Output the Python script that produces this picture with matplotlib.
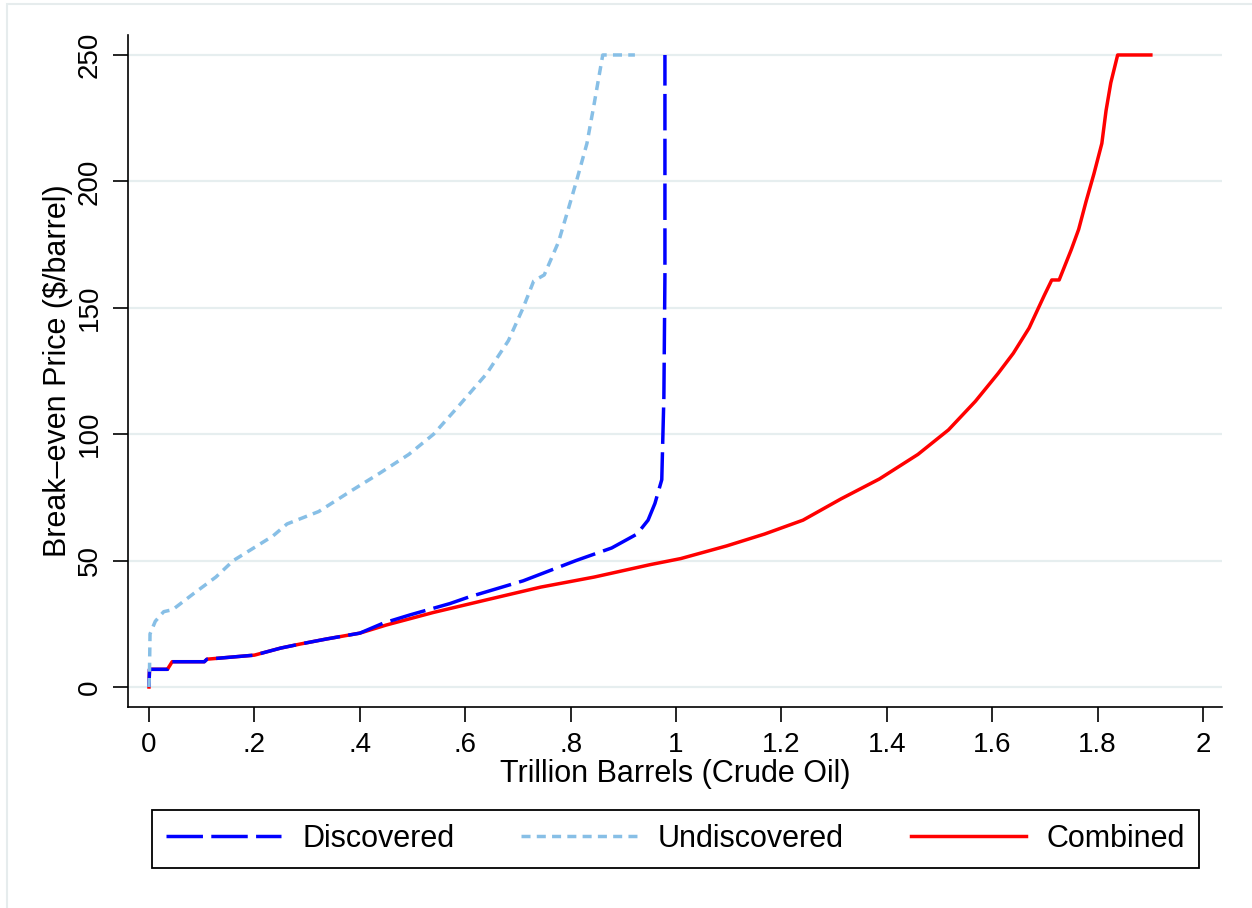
import matplotlib
matplotlib.use("Agg")
import matplotlib.pyplot as plt
from matplotlib.patches import Rectangle

plt.rcParams['font.family'] = ['Liberation Sans', 'DejaVu Sans']

# Discovered reserves (trillion barrels, break-even $/barrel)
disc_x = [0, 0.001, 0.035, 0.044, 0.105, 0.11, 0.2, 0.25, 0.287, 0.337, 0.4, 0.445,
          0.495, 0.571, 0.607, 0.71, 0.81, 0.878, 0.926, 0.947, 0.96, 0.973, 0.975,
          0.977, 0.979, 0.979]
disc_y = [0, 7, 7, 10, 10, 11, 12.6, 15.4, 17, 19, 21.3, 25.3,
          28.5, 33, 35.6, 42, 50, 55, 60.5, 66, 72.6, 82, 98.5,
          114.7, 163, 250]

# Undiscovered resources
undisc_x = [0, 0.001, 0.002, 0.012, 0.028, 0.045, 0.085, 0.127, 0.16, 0.235, 0.262,
            0.322, 0.383, 0.438, 0.493, 0.54, 0.587, 0.641, 0.682, 0.71, 0.73, 0.75,
            0.777, 0.797, 0.811, 0.831, 0.845, 0.861, 0.922]
undisc_y = [0, 6.7, 21, 26, 29.8, 30.6, 37, 43.5, 50, 59.7, 64.5,
            69.4, 77.5, 84.6, 92, 100, 111, 124, 137, 150, 160.6, 163,
            176, 190, 200, 215, 231, 250, 250]

# Combined
comb_x = [0, 0.001, 0.035, 0.044, 0.105, 0.11, 0.2, 0.25, 0.287, 0.337, 0.4, 0.45,
          0.54, 0.641, 0.743, 0.845, 0.951, 1.009, 1.096, 1.168, 1.241, 1.313, 1.386,
          1.459, 1.517, 1.568, 1.611, 1.64, 1.67, 1.699, 1.713, 1.727, 1.75, 1.764,
          1.778, 1.793, 1.808, 1.816, 1.825, 1.838, 1.901]
comb_y = [0, 7, 7, 10, 10, 11, 12.6, 15.4, 17, 19, 21.3, 24.5,
          29.5, 34.5, 39.5, 43.5, 48.4, 50.8, 55.8, 60.5, 66, 74.4, 82.3,
          92, 101.7, 113, 124, 132, 142, 155, 161, 161, 173, 181,
          192, 203, 215, 228, 239, 250, 250]

xticks = [0, 0.2, 0.4, 0.6, 0.8, 1, 1.2, 1.4, 1.6, 1.8, 2]
xtick_labels = ["0", ".2", ".4", ".6", ".8", "1", "1.2", "1.4", "1.6", "1.8", "2"]
yticks = [0, 50, 100, 150, 200, 250]

fig = plt.figure(figsize=(12.52, 9.08), dpi=100)
ax = fig.add_axes([128 / 1252, 1 - 707 / 908, 1094 / 1252, 672 / 908])

# light outer frame (only left/top visible in the crop)
fig.add_artist(Rectangle((6.5 / 1252, -0.1), 1.2, 1 - 4 / 908 + 0.1,
                         transform=fig.transFigure, fill=False,
                         edgecolor='#e6eced', lw=1.5))

l_comb, = ax.plot(comb_x, comb_y, color='#ff0000', lw=2.5, label='Combined')
l_disc, = ax.plot(disc_x, disc_y, color='#0000ff', lw=2.5, label='Discovered',
                  dashes=(10.5, 2.4))
l_und, = ax.plot(undisc_x, undisc_y, color='#87bfe6', lw=2.5, label='Undiscovered',
                 dashes=(2.6, 1.8))

ax.set_xlim(-0.0398, 2.036)
ax.set_ylim(-7.91, 257.9)

ax.set_xticks(xticks)
ax.set_xticklabels(xtick_labels)
ax.set_yticks(yticks)
ax.set_yticklabels([str(v) for v in yticks], rotation=90, va='center')
ax.tick_params(axis='both', labelsize=20, length=11, width=1.2, color='black')
ax.tick_params(axis='x', pad=7)
ax.tick_params(axis='y', pad=7)

ax.grid(axis='y', color='#e6eeef', lw=1.6)
ax.set_axisbelow(True)
for side in ['top', 'right']:
    ax.spines[side].set_visible(False)
for side in ['left', 'bottom']:
    ax.spines[side].set_linewidth(1.2)

ax.set_xlabel("Trillion Barrels (Crude Oil)", fontsize=22)
ax.set_ylabel("Break\u2013even Price ($/barrel)", fontsize=22)
ax.xaxis.set_label_coords(0.5, -0.077)
ax.yaxis.set_label_coords(-0.05, 0.5)

leg = fig.legend([l_disc, l_und, l_comb], ['Discovered', 'Undiscovered', 'Combined'],
                 loc='center', bbox_to_anchor=(675.5 / 1252, 1 - 839 / 908), ncol=3,
                 fontsize=22, handlelength=3.77, handletextpad=0.68, columnspacing=2.2,
                 borderpad=0.45, fancybox=False, framealpha=1)
leg.get_frame().set_edgecolor('black')
leg.get_frame().set_linewidth(1.3)

fig.savefig("out.png", dpi=100)
